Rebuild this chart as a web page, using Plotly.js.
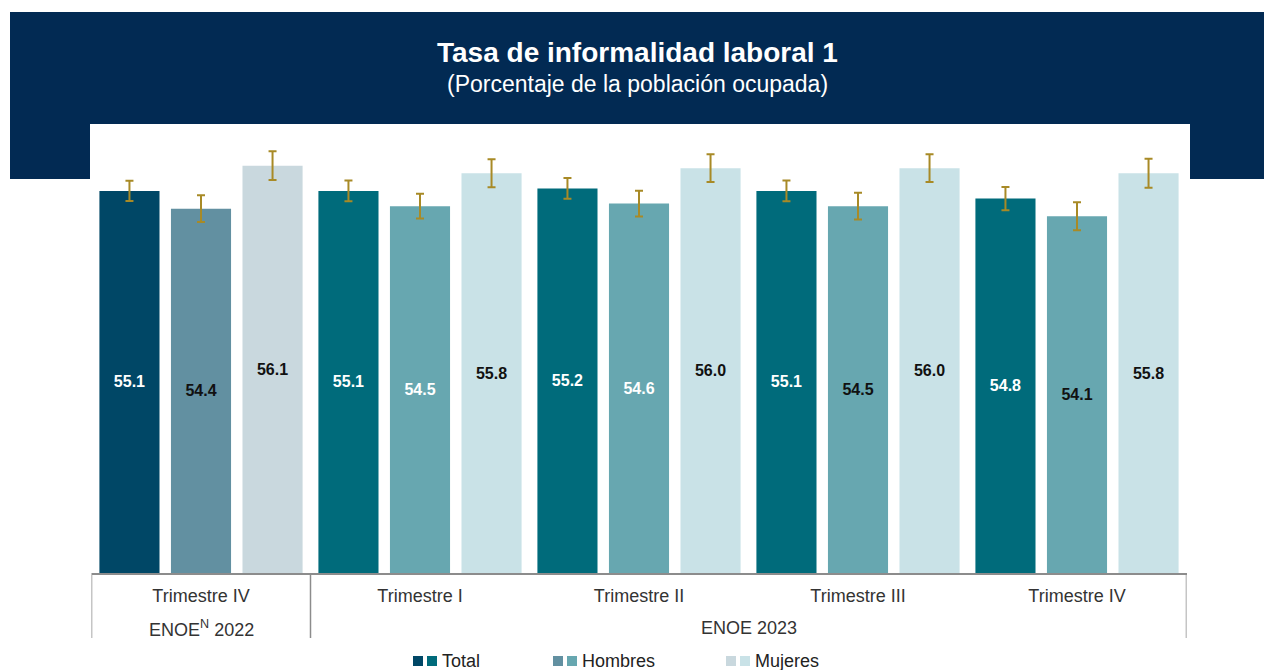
<!DOCTYPE html>
<html>
<head>
<meta charset="utf-8">
<script src="https://cdn.plot.ly/plotly-3.0.1.min.js"></script>
<style>
  html, body { margin: 0; padding: 0; background: #fff; }
  #chart { width: 1264px; height: 670px; }
</style>
</head>
<body>
<div id="chart"></div>
<script>
// periodos (eje x)
var periodos = ['Trimestre IV', 'Trimestre I', 'Trimestre II', 'Trimestre III', 'Trimestre IV'];
var xpos = [0, 1, 2, 3, 4];

// valores por serie
var total   = [55.1, 55.1, 55.2, 55.1, 54.8];
var hombres = [54.4, 54.5, 54.6, 54.5, 54.1];
var mujeres = [56.1, 55.8, 56.0, 56.0, 55.8];

// intervalos de confianza (+/-)
var errTotal   = [0.40, 0.41, 0.41, 0.41, 0.46];
var errHombres = [0.53, 0.49, 0.51, 0.53, 0.55];
var errMujeres = [0.57, 0.55, 0.55, 0.55, 0.57];

// colores: 2022 distinto a 2023
var colTotal   = ['#004766', '#006b7b', '#006b7b', '#006b7b', '#006b7b'];
var colHombres = ['#6290a1', '#67a7b0', '#67a7b0', '#67a7b0', '#67a7b0'];
var colMujeres = ['#c9d8de', '#c9e2e7', '#c9e2e7', '#c9e2e7', '#c9e2e7'];

var txtTotal   = ['#fff', '#fff', '#fff', '#fff', '#fff'];
var txtHombres = ['#111', '#fff', '#fff', '#111', '#111'];
var txtMujeres = ['#111', '#111', '#111', '#111', '#111'];

var base = 40; // el eje y arranca en 40
var navy = '#022a53';
var gold = '#a88a26';
var font = 'Liberation Sans, Arial, sans-serif';
var W = 1264, H = 670;
function px(x) { return x / W; }
function py(y) { return 1 - y / H; }

function serie(nombre, vals, errs, cols, tcols) {
  return {
    type: 'bar',
    name: nombre,
    x: xpos,
    base: base,
    y: vals.map(function (v) { return v - base; }),
    text: vals.map(function (v) { return v.toFixed(1); }),
    textposition: 'inside',
    insidetextanchor: 'middle',
    textangle: 0,
    textfont: { family: font, size: 16, color: tcols, weight: 'bold' },
    marker: { color: cols, line: { width: 0 } },
    error_y: { type: 'data', array: errs, visible: true, color: gold, thickness: 2, width: 4 },
    hoverinfo: 'skip',
    showlegend: false
  };
}

var data = [
  serie('Total', total, errTotal, colTotal, txtTotal),
  serie('Hombres', hombres, errHombres, colHombres, txtHombres),
  serie('Mujeres', mujeres, errMujeres, colMujeres, txtMujeres)
];

var shapes = [
  // franja azul del encabezado
  { type: 'rect', xref: 'paper', yref: 'paper', x0: px(10), x1: 1, y0: py(179), y1: py(12),
    fillcolor: navy, line: { width: 0 }, layer: 'below' },
  // panel blanco
  { type: 'rect', xref: 'paper', yref: 'paper', x0: px(90), x1: px(1190), y0: py(640), y1: py(124),
    fillcolor: '#ffffff', line: { width: 0 }, layer: 'below' },
  // separadores del eje
  { type: 'line', xref: 'x', yref: 'paper', x0: -0.5, x1: -0.5, y0: py(638), y1: py(573),
    line: { color: '#8c8c8c', width: 1.5 } },
  { type: 'line', xref: 'x', yref: 'paper', x0: 0.5, x1: 0.5, y0: py(638), y1: py(573),
    line: { color: '#8c8c8c', width: 1.5 } },
  { type: 'line', xref: 'x', yref: 'paper', x0: 4.5, x1: 4.5, y0: py(638), y1: py(573),
    line: { color: '#8c8c8c', width: 1.5 } }
];

// leyenda a mano: dos cuadros por serie (2022 y 2023)
var leyenda = [
  { nombre: 'Total', c: [colTotal[0], colTotal[1]], x: 413 },
  { nombre: 'Hombres', c: [colHombres[0], colHombres[1]], x: 553 },
  { nombre: 'Mujeres', c: [colMujeres[0], colMujeres[1]], x: 726 }
];

var annotations = [
  { xref: 'paper', yref: 'paper', x: px(637), y: py(52), yanchor: 'middle',
    text: '<b>Tasa de informalidad laboral 1</b>',
    showarrow: false, font: { family: font, size: 28, color: '#fff' } },
  { xref: 'paper', yref: 'paper', x: px(637), y: py(84), yanchor: 'middle',
    text: '(Porcentaje de la población ocupada)',
    showarrow: false, font: { family: font, size: 23, color: '#fff' } },
  { xref: 'x', yref: 'paper', x: 0, y: py(628), yanchor: 'middle', text: 'ENOE<sup>N</sup> 2022',
    showarrow: false, font: { family: font, size: 18, color: '#333' } },
  { xref: 'x', yref: 'paper', x: 2.5, y: py(628), yanchor: 'middle', text: 'ENOE 2023',
    showarrow: false, font: { family: font, size: 18, color: '#333' } }
];

leyenda.forEach(function (l) {
  shapes.push({ type: 'rect', xref: 'paper', yref: 'paper', x0: px(l.x), x1: px(l.x + 10),
    y0: py(666), y1: py(656), fillcolor: l.c[0], line: { width: 0 } });
  shapes.push({ type: 'rect', xref: 'paper', yref: 'paper', x0: px(l.x + 14), x1: px(l.x + 24),
    y0: py(666), y1: py(656), fillcolor: l.c[1], line: { width: 0 } });
  annotations.push({ xref: 'paper', yref: 'paper', x: px(l.x + 27), y: py(661),
    xanchor: 'left', yanchor: 'middle',
    text: l.nombre, showarrow: false, font: { family: font, size: 18, color: '#222' } });
});

var layout = {
  width: W,
  height: H,
  margin: { l: 0, r: 0, t: 0, b: 0 },
  paper_bgcolor: '#ffffff',
  plot_bgcolor: 'rgba(0,0,0,0)',
  barmode: 'group',
  bargap: 0.02,
  bargroupgap: 0.16,
  showlegend: false,
  xaxis: {
    domain: [px(91.5), px(1186.5)],
    range: [-0.5, 4.5],
    tickvals: xpos,
    ticktext: periodos,
    ticks: '',
    showgrid: false,
    zeroline: false,
    showline: true,
    linecolor: '#8c8c8c',
    linewidth: 1.5,
    tickfont: { family: font, size: 18, color: '#333' },
    ticklabelstandoff: 6
  },
  yaxis: {
    domain: [py(573), py(124)],
    range: [base, base + 449 / 25.3],
    visible: false,
    showgrid: false,
    zeroline: false
  },
  shapes: shapes,
  annotations: annotations
};

Plotly.newPlot('chart', data, layout, { displayModeBar: false, staticPlot: true });
</script>
</body>
</html>
